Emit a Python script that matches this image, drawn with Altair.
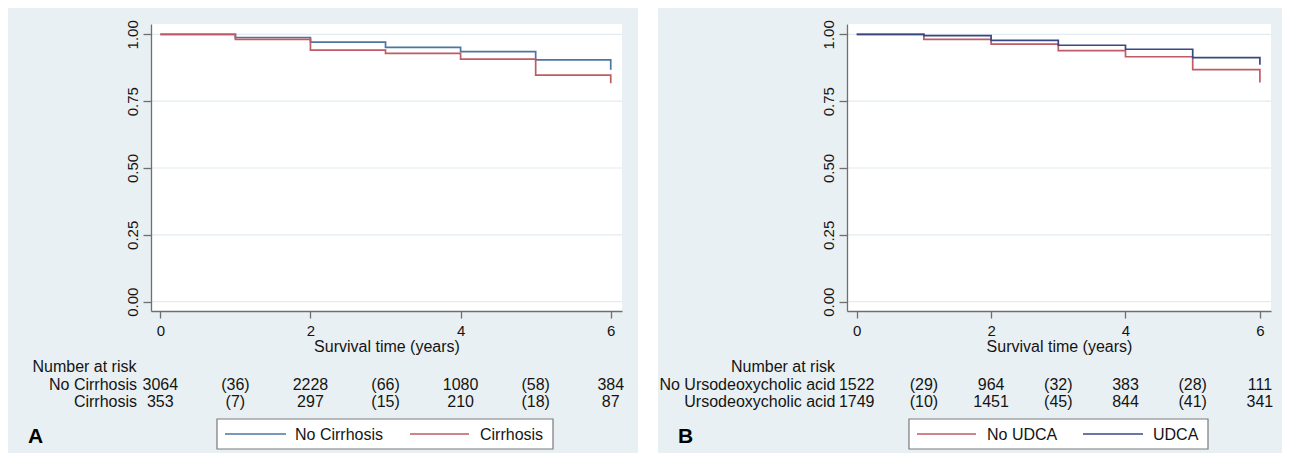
import altair as alt
import pandas as pd

# ---------------- data ----------------
times = [0, 1, 2, 3, 4, 5, 6]

# Panel A: Kaplan-Meier survival estimates
surv_no_cirrhosis = [1.000, 0.988, 0.971, 0.951, 0.935, 0.904, 0.867]
surv_cirrhosis = [1.000, 0.981, 0.941, 0.929, 0.907, 0.847, 0.817]

# Panel B
surv_no_udca = [1.000, 0.981, 0.963, 0.939, 0.916, 0.868, 0.820]
surv_udca = [1.000, 0.995, 0.977, 0.959, 0.944, 0.913, 0.886]

# Number-at-risk tables
risk_times = [0, 1, 2, 3, 4, 5, 6]
risk_no_cirrhosis = ["3064", "(36)", "2228", "(66)", "1080", "(58)", "384"]
risk_cirrhosis = ["353", "(7)", "297", "(15)", "210", "(18)", "87"]
risk_no_udca = ["1522", "(29)", "964", "(32)", "383", "(28)", "111"]
risk_udca = ["1749", "(10)", "1451", "(45)", "844", "(41)", "341"]

groups_a = ["No Cirrhosis", "Cirrhosis"]
groups_b = ["No UDCA", "UDCA"]
row_labels_a = ["No Cirrhosis", "Cirrhosis"]
row_labels_b = ["No Ursodeoxycholic acid", "Ursodeoxycholic acid"]
risk_title = "Number at risk"
x_title = "Survival time (years)"
y_ticks = [0, 0.25, 0.5, 0.75, 1.0]
x_ticks = [0, 2, 4, 6]

# ---------------- style ----------------
FONT = "Liberation Sans"
BG = "#e9f0f3"
GRID = "#e2ebef"
AXC = "#6f6f6f"
TXT = "#141414"
BLUE = "#4d75a0"
RED = "#bf5b66"
NAVY = "#3a4882"
H = 287


def panel(curve_a, curve_b, groups, colors, risk_a, risk_b, row_labels,
          letter, width, xdomain, bg, lab_x, leg):
    df = pd.DataFrame({
        "t": times + times,
        "s": curve_a + curve_b,
        "group": [groups[0]] * len(times) + [groups[1]] * len(times),
    })
    risk = pd.DataFrame({
        "t": risk_times + risk_times,
        "label": risk_a + risk_b,
        "row": [0] * len(risk_times) + [1] * len(risk_times),
    })
    grid = pd.DataFrame({"g": y_ticks})
    one = pd.DataFrame({"a": [0]})
    leg_df = pd.DataFrame({"group": groups})
    rows_df = pd.DataFrame({"lab": row_labels, "row": [0, 1]})

    xs = alt.Scale(domain=xdomain, nice=False, zero=False)
    ys = alt.Scale(domain=[-0.0348, 1.0385], nice=False, zero=False)
    cs = alt.Scale(domain=groups, range=colors)

    xaxis = alt.Axis(values=x_ticks, format="d", grid=False, tickSize=7,
                     labelPadding=5, labelFont=FONT, labelFontSize=15,
                     labelColor=TXT, labelAngle=0, labelFlush=False,
                     title=x_title, titleFont=FONT, titleFontSize=16,
                     titleFontWeight="normal", titleColor=TXT,
                     titleBaseline="alphabetic", titleY=40,
                     domainColor=AXC, tickColor=AXC, domainWidth=1.3,
                     tickWidth=1.3, zindex=1)
    yaxis = alt.Axis(values=y_ticks, format=".2f", grid=False, tickSize=8,
                     labelAngle=270, labelAlign="center",
                     labelBaseline="alphabetic", labelPadding=5.5,
                     labelFont=FONT, labelFontSize=15, labelColor=TXT,
                     title=None, domainColor=AXC, tickColor=AXC,
                     domainWidth=1.3, tickWidth=1.3, zindex=1)

    bg_rect = alt.Chart(one).mark_rect(color=BG).encode(
        x=alt.value(bg[0]), x2=alt.value(bg[1]),
        y=alt.value(-16), y2=alt.value(429))
    plot_rect = alt.Chart(one).mark_rect(color="white").encode(
        x=alt.value(0), x2=alt.value(width), y=alt.value(0), y2=alt.value(H))
    grid_l = alt.Chart(grid).mark_rule(color=GRID, strokeWidth=1.2).encode(
        y=alt.Y("g:Q", scale=ys, axis=yaxis))
    lines = alt.Chart(df).mark_line(interpolate="step-after",
                                    strokeWidth=1.7).encode(
        x=alt.X("t:Q", scale=xs, axis=xaxis),
        y=alt.Y("s:Q", scale=ys, axis=yaxis),
        color=alt.Color("group:N", scale=cs, legend=None),
        detail="group:N")

    txt = dict(font=FONT, fontSize=16, color=TXT, baseline="alphabetic")
    risk_layers = []
    for r, yy in ((0, 366), (1, 383)):
        risk_layers.append(
            alt.Chart(risk).transform_filter(alt.datum.row == r)
            .mark_text(align="center", **txt).encode(
                x=alt.X("t:Q", scale=xs, axis=xaxis),
                y=alt.value(yy), text="label:N"))
        risk_layers.append(
            alt.Chart(rows_df).transform_filter(alt.datum.row == r)
            .mark_text(align="right", **txt).encode(
                x=alt.value(lab_x), y=alt.value(yy), text="lab:N"))
    nar = alt.Chart(one).mark_text(align="right", **txt).encode(
        x=alt.value(lab_x - 0.5), y=alt.value(348), text=alt.value(risk_title))
    let = alt.Chart(one).mark_text(align="left", font=FONT, fontSize=21,
                                   fontWeight="bold", color="#000000",
                                   baseline="alphabetic").encode(
        x=alt.value(bg[0] + 20), y=alt.value(419), text=alt.value(letter))

    box = alt.Chart(one).mark_rect(fill="white", stroke="#7a7a7a",
                                   strokeWidth=1.2).encode(
        x=alt.value(leg["box"][0]), x2=alt.value(leg["box"][1]),
        y=alt.value(395), y2=alt.value(425))
    leg_layers = []
    for g, (x1, x2, xt) in zip(groups, leg["items"]):
        leg_layers.append(
            alt.Chart(leg_df).transform_filter(alt.datum.group == g)
            .mark_rule(strokeWidth=1.6).encode(
                x=alt.value(x1), x2=alt.value(x2), y=alt.value(410),
                color=alt.Color("group:N", scale=cs, legend=None)))
        leg_layers.append(
            alt.Chart(leg_df).transform_filter(alt.datum.group == g)
            .mark_text(align="left", **txt).encode(
                x=alt.value(xt), y=alt.value(416), text="group:N"))

    return alt.layer(bg_rect, plot_rect, grid_l, lines, *risk_layers, nar,
                     let, box, *leg_layers).properties(width=width, height=H)


pa = panel(surv_no_cirrhosis, surv_cirrhosis, groups_a, [BLUE, RED],
           risk_no_cirrhosis, risk_cirrhosis, row_labels_a, "A",
           471, [-0.124, 6.150], (-143, 487), -14,
           {"box": (66, 402), "items": [(74, 135, 144), (259, 318, 329)]})
pb = panel(surv_no_udca, surv_udca, groups_b, [RED, NAVY],
           risk_no_udca, risk_udca, row_labels_b, "B",
           424, [-0.144, 6.165], (-189, 435), -11.5,
           {"box": (62, 361), "items": [(70, 129, 140), (236, 296, 306)]})

chart = (alt.hconcat(pa, pb, spacing=20)
         .resolve_scale(color="independent")
         .configure_view(stroke=None)
         .properties(padding=0, background="white"))

chart.save("out.html", embed_options={"renderer": "svg", "actions": False})
